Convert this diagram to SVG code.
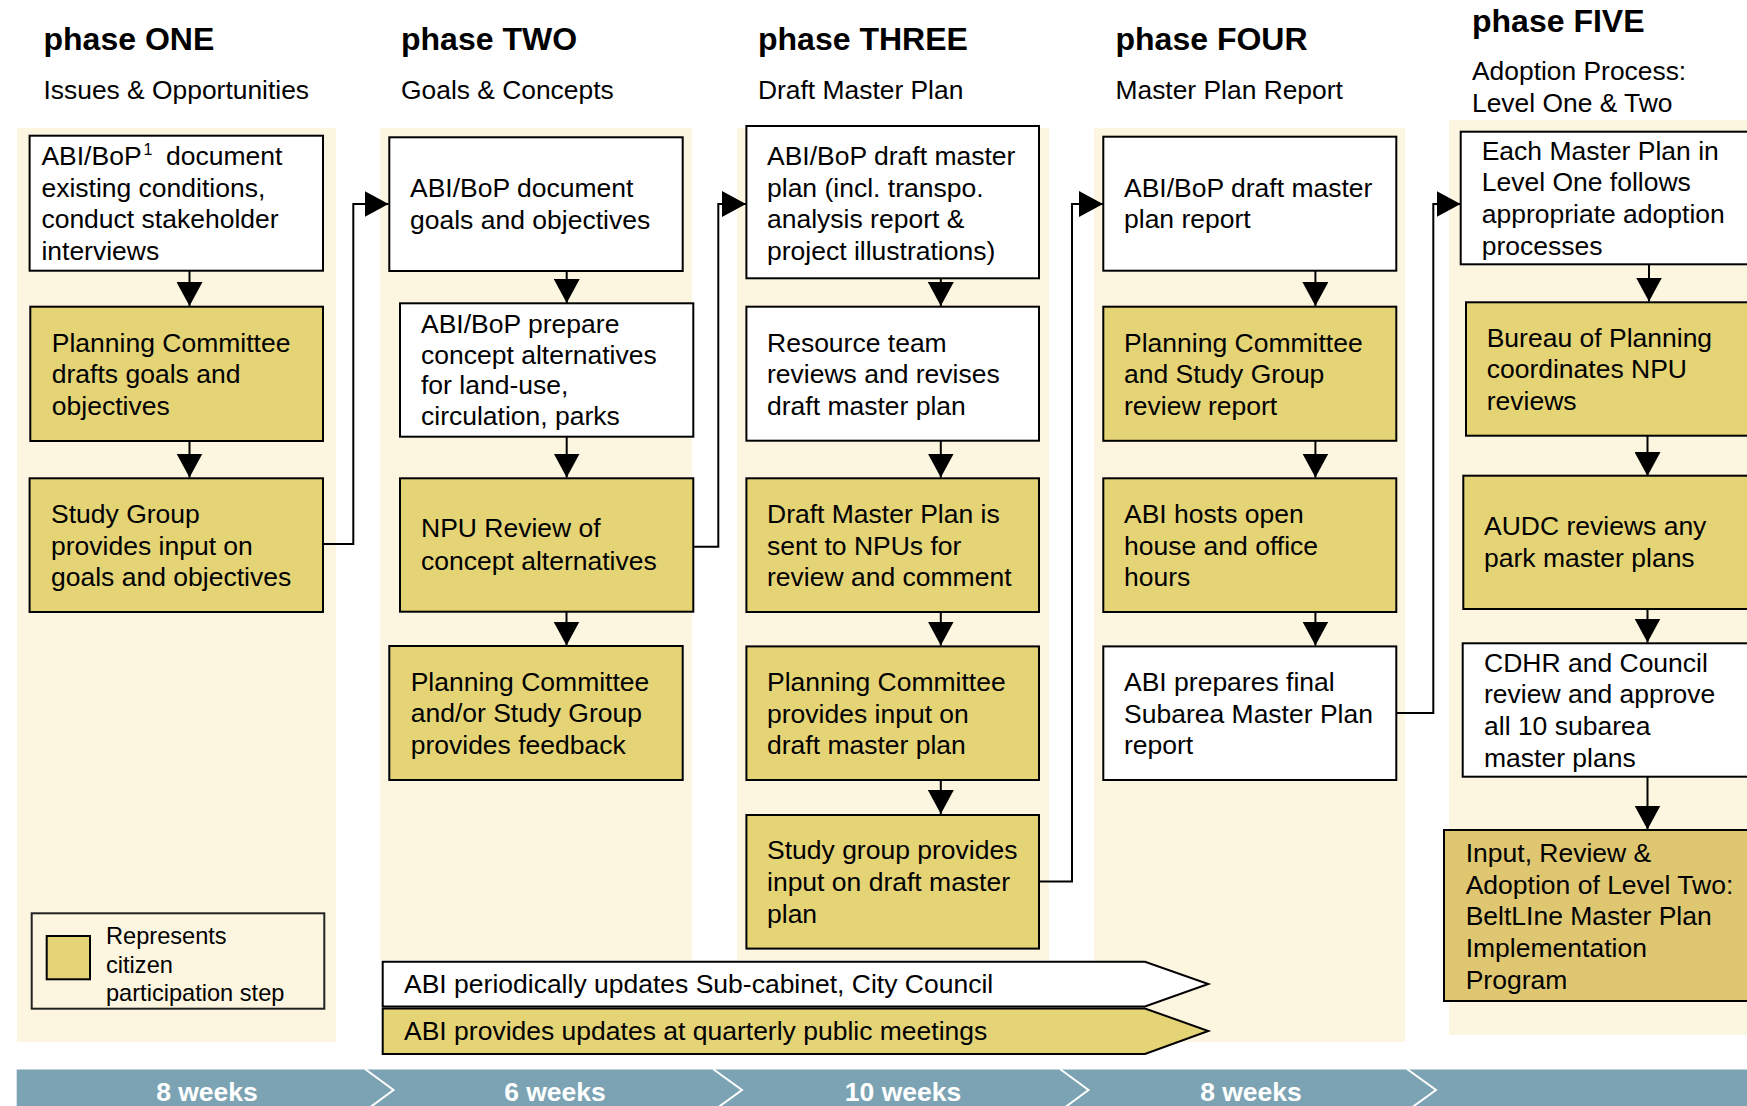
<svg xmlns="http://www.w3.org/2000/svg" width="1747" height="1106" viewBox="0 0 1747 1106">
<style>
text{font-family:"Liberation Sans",Arial,sans-serif;fill:#000}
.title{font-size:32px;font-weight:bold}
.sub{font-size:26.4px}
.t{font-size:26.5px}
.lg{font-size:23.6px}
.wk{font-size:26.5px;font-weight:bold;fill:#fff;text-anchor:middle}
.panel{fill:#FCF5DF}
.w{fill:#fff;stroke:#000;stroke-width:2}
.y{fill:#E5D475;stroke:#000;stroke-width:2}
.y2{fill:#DEC770;stroke:#000;stroke-width:2}
.c{fill:none;stroke:#000;stroke-width:2;marker-end:url(#ah)}
.sep{fill:none;stroke:#fff;stroke-width:2}
</style>
<defs>
<marker id="ah" viewBox="0 0 24 26" refX="24" refY="13" markerWidth="24" markerHeight="26" orient="auto" markerUnits="userSpaceOnUse"><path d="M0,0L24,13L0,26z" fill="#000"/></marker>
</defs>
<rect width="1747" height="1106" fill="#fff"/>

<g id="panels">
<rect class="panel" x="17" y="128" width="319" height="914"/>
<rect class="panel" x="380" y="128" width="312" height="832"/>
<rect class="panel" x="737" y="128" width="312" height="832"/>
<rect class="panel" x="1094" y="128" width="311" height="914"/>
<rect class="panel" x="1449" y="120" width="310" height="915"/>
</g>

<g id="headers">
<text class="title" x="43.5" y="50">phase ONE</text>
<text class="sub" x="43.5" y="99">Issues &amp; Opportunities</text>
<text class="title" x="401" y="50">phase TWO</text>
<text class="sub" x="401" y="99">Goals &amp; Concepts</text>
<text class="title" x="758" y="50">phase THREE</text>
<text class="sub" x="758" y="99">Draft Master Plan</text>
<text class="title" x="1115.5" y="50">phase FOUR</text>
<text class="sub" x="1115.5" y="99">Master Plan Report</text>
<text class="title" x="1472" y="31.5">phase FIVE</text>
<text class="sub" x="1472" y="80">Adoption Process:</text>
<text class="sub" x="1472" y="111.5">Level One &amp; Two</text>
</g>

<g id="connectors">
<line class="c" x1="189.5" y1="271" x2="189.5" y2="306"/>
<line class="c" x1="189.5" y1="441" x2="189.5" y2="477.5"/>
<polyline class="c" points="318,544 353.3,544 353.3,204 388.5,204"/>
<line class="c" x1="566.7" y1="271" x2="566.7" y2="303" stroke-width="3.5"/>
<line class="c" x1="566.7" y1="437" x2="566.7" y2="477.5" stroke-width="3"/>
<line class="c" x1="566.5" y1="612" x2="566.5" y2="645.5"/>
<polyline class="c" points="693.3,546.7 718.3,546.7 718.3,204 746,204"/>
<line class="c" x1="940.8" y1="278.3" x2="940.8" y2="306"/>
<line class="c" x1="940.8" y1="440.7" x2="940.8" y2="477.5"/>
<line class="c" x1="940.8" y1="612" x2="940.8" y2="645.5"/>
<line class="c" x1="940.8" y1="780" x2="940.8" y2="814"/>
<polyline class="c" points="1039,881.4 1072,881.4 1072,204 1103,204"/>
<line class="c" x1="1315.4" y1="270.7" x2="1315.4" y2="306"/>
<line class="c" x1="1315.4" y1="440.8" x2="1315.4" y2="477.5"/>
<line class="c" x1="1315.4" y1="612" x2="1315.4" y2="645.5"/>
<polyline class="c" points="1396.3,713 1433.3,713 1433.3,204 1460.5,204"/>
<line class="c" x1="1649" y1="264.3" x2="1649" y2="301.5"/>
<line class="c" x1="1647.5" y1="435.7" x2="1647.5" y2="476" stroke-width="3"/>
<line class="c" x1="1647.5" y1="609" x2="1647.5" y2="642.5"/>
<line class="c" x1="1647.5" y1="776.7" x2="1647.5" y2="829.5"/>
</g>

<g id="p1b1"><rect class="w" x="29.6" y="135.7" width="293.4" height="135"/>
<text class="t"><tspan x="41.4" y="165">ABI/BoP</tspan><tspan x="143.5" y="155" font-size="16">1</tspan><tspan x="166" y="165">document</tspan><tspan x="41.4" y="196.7">existing conditions,</tspan><tspan x="41.4" y="228.3">conduct stakeholder</tspan><tspan x="41.4" y="260">interviews</tspan></text></g>
<g id="p1b2"><rect class="y" x="30.3" y="306.7" width="292.7" height="134.3"/>
<text class="t"><tspan x="51.8" y="351.7">Planning Committee</tspan><tspan x="51.8" y="383.3">drafts goals and</tspan><tspan x="51.8" y="415">objectives</tspan></text></g>
<g id="p1b3"><rect class="y" x="29.6" y="478.3" width="293.4" height="133.7"/>
<text class="t"><tspan x="51" y="522.7">Study Group</tspan><tspan x="51" y="554.5">provides input on</tspan><tspan x="51" y="586">goals and objectives</tspan></text></g>
<g id="legend"><rect x="31.7" y="913.3" width="292.6" height="95.4" fill="#FCF5DF" stroke="#222" stroke-width="2"/>
<rect class="y" x="46.7" y="936" width="43.3" height="43.3"/>
<text class="lg"><tspan x="106" y="944">Represents</tspan><tspan x="106" y="972.5">citizen</tspan><tspan x="106" y="1000.5">participation step</tspan></text></g>

<g id="p2b1"><rect class="w" x="389.3" y="137.3" width="293.4" height="133.7"/>
<text class="t"><tspan x="410" y="197.3">ABI/BoP document</tspan><tspan x="410" y="228.5">goals and objectives</tspan></text></g>
<g id="p2b2"><rect class="w" x="400" y="303.3" width="293.3" height="133.4"/>
<text class="t"><tspan x="421" y="332.7">ABI/BoP prepare</tspan><tspan x="421" y="363.5">concept alternatives</tspan><tspan x="421" y="394.3">for land-use,</tspan><tspan x="421" y="425">circulation, parks</tspan></text></g>
<g id="p2b3"><rect class="y" x="400" y="478.3" width="293.3" height="133.4"/>
<text class="t"><tspan x="421" y="537">NPU Review of</tspan><tspan x="421" y="569.5">concept alternatives</tspan></text></g>
<g id="p2b4"><rect class="y" x="389.3" y="646" width="293.4" height="134"/>
<text class="t"><tspan x="410.7" y="690.5">Planning Committee</tspan><tspan x="410.7" y="722">and/or Study Group</tspan><tspan x="410.7" y="753.5">provides feedback</tspan></text></g>

<g id="p3b1"><rect class="w" x="746.4" y="126" width="292.6" height="152.3"/>
<text class="t"><tspan x="767" y="165">ABI/BoP draft master</tspan><tspan x="767" y="196.7">plan (incl. transpo.</tspan><tspan x="767" y="228.3">analysis report &amp;</tspan><tspan x="767" y="260">project illustrations)</tspan></text></g>
<g id="p3b2"><rect class="w" x="746.4" y="306.7" width="292.6" height="134"/>
<text class="t"><tspan x="767" y="351.7">Resource team</tspan><tspan x="767" y="383.3">reviews and revises</tspan><tspan x="767" y="415">draft master plan</tspan></text></g>
<g id="p3b3"><rect class="y" x="746.4" y="478.3" width="292.6" height="133.7"/>
<text class="t"><tspan x="767" y="522.7">Draft Master Plan is</tspan><tspan x="767" y="554.5">sent to NPUs for</tspan><tspan x="767" y="586">review and comment</tspan></text></g>
<g id="p3b4"><rect class="y" x="746.4" y="646.4" width="292.6" height="133.6"/>
<text class="t"><tspan x="767" y="690.8">Planning Committee</tspan><tspan x="767" y="722.5">provides input on</tspan><tspan x="767" y="754.2">draft master plan</tspan></text></g>
<g id="p3b5"><rect class="y" x="746.4" y="815" width="292.6" height="133.6"/>
<text class="t"><tspan x="767" y="859">Study group provides</tspan><tspan x="767" y="890.8">input on draft master</tspan><tspan x="767" y="922.5">plan</tspan></text></g>

<g id="p4b1"><rect class="w" x="1103.3" y="136.7" width="293" height="134"/>
<text class="t"><tspan x="1124" y="196.7">ABI/BoP draft master</tspan><tspan x="1124" y="228.3">plan report</tspan></text></g>
<g id="p4b2"><rect class="y" x="1103.3" y="306.7" width="293" height="134.1"/>
<text class="t"><tspan x="1124" y="351.7">Planning Committee</tspan><tspan x="1124" y="383.3">and Study Group</tspan><tspan x="1124" y="415">review report</tspan></text></g>
<g id="p4b3"><rect class="y" x="1103.3" y="478.3" width="293" height="133.7"/>
<text class="t"><tspan x="1124" y="522.7">ABI hosts open</tspan><tspan x="1124" y="554.5">house and office</tspan><tspan x="1124" y="586">hours</tspan></text></g>
<g id="p4b4"><rect class="w" x="1103.3" y="646.4" width="293" height="133.6"/>
<text class="t"><tspan x="1124" y="690.8">ABI prepares final</tspan><tspan x="1124" y="722.5">Subarea Master Plan</tspan><tspan x="1124" y="754.2">report</tspan></text></g>

<g id="p5b1"><rect class="w" x="1460.7" y="131.7" width="300" height="132.6"/>
<text class="t"><tspan x="1481.7" y="160">Each Master Plan in</tspan><tspan x="1481.7" y="191">Level One follows</tspan><tspan x="1481.7" y="222.8">appropriate adoption</tspan><tspan x="1481.7" y="255">processes</tspan></text></g>
<g id="p5b2"><rect class="y" x="1466" y="302.3" width="300" height="133.4"/>
<text class="t"><tspan x="1486.7" y="346.7">Bureau of Planning</tspan><tspan x="1486.7" y="378.3">coordinates NPU</tspan><tspan x="1486.7" y="410">reviews</tspan></text></g>
<g id="p5b3"><rect class="y" x="1463.3" y="475.7" width="300" height="133.3"/>
<text class="t"><tspan x="1484" y="535">AUDC reviews any</tspan><tspan x="1484" y="566.7">park master plans</tspan></text></g>
<g id="p5b4"><rect class="w" x="1462.7" y="643.3" width="300" height="133.4"/>
<text class="t"><tspan x="1484" y="671.7">CDHR and Council</tspan><tspan x="1484" y="703">review and approve</tspan><tspan x="1484" y="735">all 10 subarea</tspan><tspan x="1484" y="766.7">master plans</tspan></text></g>
<g id="p5b5"><rect class="y2" x="1444" y="830" width="320" height="171"/>
<text class="t"><tspan x="1465.7" y="861.7">Input, Review &amp;</tspan><tspan x="1465.7" y="893.5">Adoption of Level Two:</tspan><tspan x="1465.7" y="925.3">BeltLIne Master Plan</tspan><tspan x="1465.7" y="957.3">Implementation</tspan><tspan x="1465.7" y="989.3">Program</tspan></text></g>

<g id="updates1"><polygon class="w" points="382.7,961.7 1145,961.7 1208.3,984 1145,1006.5 382.7,1006.5"/>
<text class="t" x="404" y="993">ABI periodically updates Sub-cabinet, City Council</text></g>
<g id="updates2"><polygon class="y" points="382.7,1008.5 1145,1008.5 1208.3,1031 1145,1054 382.7,1054"/>
<text class="t" x="404" y="1040">ABI provides updates at quarterly public meetings</text></g>

<g id="timeline">
<rect x="16.7" y="1069.5" width="1731" height="40" fill="#7BA3B3"/>
<polyline class="sep" points="365,1069 393.5,1090 365,1111"/>
<polyline class="sep" points="713,1069 742,1090 713,1111"/>
<polyline class="sep" points="1060,1069 1088.5,1090 1060,1111"/>
<polyline class="sep" points="1407,1069 1436,1090 1407,1111"/>
<text class="wk" x="207" y="1101">8 weeks</text>
<text class="wk" x="555" y="1101">6 weeks</text>
<text class="wk" x="903" y="1101">10 weeks</text>
<text class="wk" x="1251" y="1101">8 weeks</text>
</g>
</svg>
